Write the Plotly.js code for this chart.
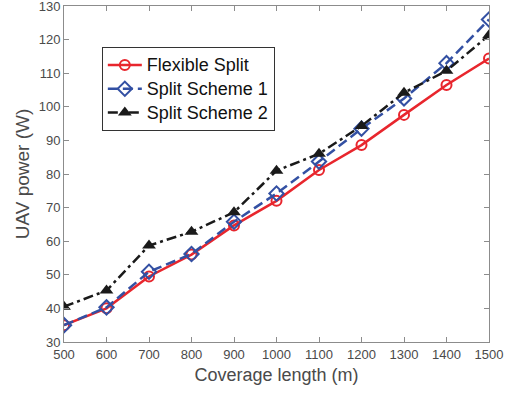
<!DOCTYPE html>
<html><head><meta charset="utf-8">
<script src="https://cdn.plot.ly/plotly-3.0.1.min.js"></script>
<style>html,body{margin:0;padding:0;background:#fff}#chart{width:506px;height:393px}</style>
</head><body><div id="chart"></div>
<script>
const coverage = [500, 600, 700, 800, 900, 1000, 1100, 1200, 1300, 1400, 1500];
const flexibleSplit = [35, 40, 49.5, 56, 64.7, 72, 81.2, 88.6, 97.6, 106.5, 114.4];
const splitScheme1 = [35, 40.3, 50.9, 56.2, 65.8, 74.2, 83.7, 93.5, 102.5, 113, 126];
const splitScheme2 = [40.5, 45.3, 58.7, 62.8, 68.6, 81, 86, 94.3, 104.2, 110.7, 121.3];
const seriesNames = ['Flexible Split', 'Split Scheme 1', 'Split Scheme 2'];
const xTicks = [500, 600, 700, 800, 900, 1000, 1100, 1200, 1300, 1400, 1500];
const yTicks = [30, 40, 50, 60, 70, 80, 90, 100, 110, 120, 130];

const big = s => '<span style="font-size:18px">' + s + '</span>';

const traces = [
  {x: coverage, y: flexibleSplit, name: big(seriesNames[0]), mode: 'lines+markers',
   line: {color: '#e8262d', width: 2.5},
   marker: {symbol: 'circle-open', size: 10, color: '#e8262d', line: {width: 2, color: '#e8262d'}}},
  {x: coverage, y: splitScheme1, name: big(seriesNames[1]), mode: 'lines+markers',
   line: {color: '#3350a3', width: 2.5, dash: '10px,5px'},
   marker: {symbol: 'diamond-open', size: 11, color: '#3350a3', line: {width: 2, color: '#3350a3'}}},
  {x: coverage, y: splitScheme2, name: big(seriesNames[2]), mode: 'lines+markers',
   line: {color: '#1a1a1a', width: 2.5, dash: '10px,4px,3px,4px'},
   marker: {symbol: 'triangle-up', size: 12, color: '#1a1a1a'}}
];

const FONT = 'Liberation Sans, Arial, sans-serif';
const titleFont = {family: FONT, size: 18, color: '#4a4a4a'};
const axisCommon = {
  showline: true, mirror: 'ticks', linecolor: '#8c8c8c', linewidth: 1,
  ticks: 'inside', ticklen: 5, tickcolor: '#8c8c8c', tickwidth: 1,
  showgrid: false, zeroline: false, ticklabeloverflow: 'allow',
  tickfont: {family: FONT, size: 13, color: '#4a4a4a'}
};

const layout = {
  width: 506, height: 393,
  margin: {l: 64, r: 17, t: 6, b: 51},
  paper_bgcolor: '#fff', plot_bgcolor: '#fff',
  showlegend: true,
  legend: {x: 0.089, y: 0.878, xanchor: 'left', yanchor: 'top',
    bordercolor: '#333', borderwidth: 1, bgcolor: '#fff',
    font: {family: FONT, size: 16, color: '#111'},
    tracegroupgap: 0, itemwidth: 34},
  xaxis: Object.assign({}, axisCommon, {range: [499.99, 1500.01], tickvals: xTicks, ticktext: xTicks.map(String),
    title: {text: 'Coverage length (m)', standoff: 7, font: titleFont}}),
  yaxis: Object.assign({}, axisCommon, {range: [29.99, 130.01], tickvals: yTicks, ticktext: yTicks.map(String),
    title: {text: 'UAV power (W)', standoff: 4, font: Object.assign({}, titleFont, {size: 19})}})
};

Plotly.newPlot('chart', traces, layout, {displayModeBar: false, staticPlot: true});
</script></body></html>
